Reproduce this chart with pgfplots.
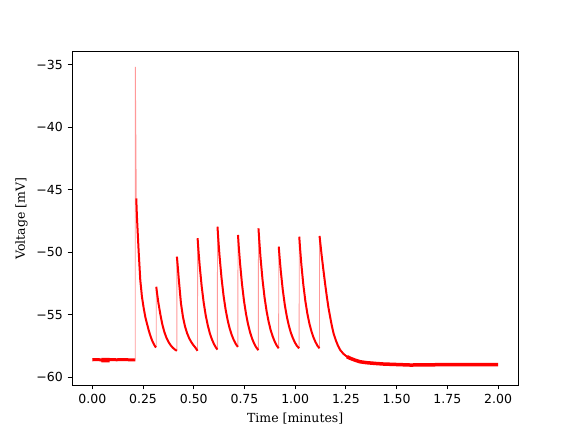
\documentclass[border=0pt]{standalone}
\usepackage{pgfplots}
\pgfplotsset{compat=1.18}
\usepackage{fontspec}
\setmainfont{DejaVu Serif}
\newfontfamily\ticksans{DejaVu Sans}
\begin{document}
\begin{tikzpicture}
\useasboundingbox (-72bp,-47bp) rectangle (504bp,385bp);
\begin{axis}[
  at={(0,0)}, anchor=south west,
  scale only axis, width=446.4bp, height=333bp,
  xmin=-0.1, xmax=2.1, ymin=-60.641, ymax=-33.958,
  unbounded coords=jump,
  xtick={0,0.25,0.5,0.75,1,1.25,1.5,1.75,2},
  xticklabels={0.00,0.25,0.50,0.75,1.00,1.25,1.50,1.75,2.00},
  ytick={-60,-55,-50,-45,-40,-35},
  yticklabels={−60,−55,−50,−45,−40,−35},
  xtick pos=left, ytick pos=left,
  tick align=outside,
  major tick length=4.4bp,
  tick style={line width=1bp, black},
  axis line style={line width=1bp},
  ticklabel style={font=\ticksans\fontsize{12.5bp}{15bp}\selectfont, inner sep=0pt},
  xticklabel style={anchor=north, yshift=-4.6bp},
  yticklabel style={anchor=east, xshift=-4.6bp},
  label style={font=\fontsize{12.5bp}{15bp}\selectfont},
  xlabel={Time [minutes]},
  ylabel={Voltage [mV]},
  xlabel style={at={(axis description cs:0.5,0)}, anchor=base, yshift=-37.3bp},
  ylabel style={at={([xshift=-47bp]axis description cs:0,0.5)}, anchor=base},
]
% baseline
\addplot[red, line width=3bp, line join=round] coordinates {
(0,-58.62) (0.03,-58.60) (0.05,-58.66) (0.07,-58.62) (0.09,-58.60) (0.12,-58.62) (0.15,-58.60) (0.18,-58.62) (0.2118,-58.62)};
\addplot[red, line width=4.5bp] coordinates {(0.045,-58.65) (0.085,-58.64)};
% rises
\addplot[red!40, line width=0.9bp] coordinates {
(0.2118,-58.62)(0.2120,-35.16)(0.2167,-45.68) (nan,nan)
(0.3150,-57.62)(0.3153,-52.77) (nan,nan)
(0.4165,-57.90)(0.4170,-50.36) (nan,nan)
(0.5185,-57.90)(0.5190,-48.88) (nan,nan)
(0.6165,-57.80)(0.6170,-47.96) (nan,nan)
(0.7175,-57.59)(0.7180,-48.62) (nan,nan)
(0.8185,-57.85)(0.8190,-48.09) (nan,nan)
(0.9185,-57.70)(0.9190,-49.56) (nan,nan)
(1.0195,-57.70)(1.0200,-48.76) (nan,nan)
(1.1195,-57.70)(1.1200,-48.70)};
% decays
\addplot[red, line width=2bp, line join=round] coordinates {
(0.2167,-45.68)(0.2200,-47.16)(0.2281,-49.82)(0.2365,-52.23)(0.2447,-53.57)(0.2530,-54.45)(0.2611,-55.17)(0.2700,-55.75)(0.2776,-56.23)(0.2860,-56.68)(0.2939,-57.04)(0.3020,-57.32)(0.3103,-57.57)(0.3150,-57.62) (nan,nan)
(0.3153,-52.77)(0.3193,-53.30)(0.3253,-54.01)(0.3353,-54.97)(0.3453,-55.80)(0.3553,-56.40)(0.3653,-56.85)(0.3753,-57.18)(0.3853,-57.44)(0.3953,-57.63)(0.4053,-57.78)(0.4165,-57.90) (nan,nan)
(0.417,-50.36)(0.421,-51.10)(0.427,-52.30)(0.437,-54.10)(0.447,-55.20)(0.457,-55.95)(0.467,-56.48)(0.477,-56.88)(0.487,-57.18)(0.497,-57.42)(0.507,-57.62)(0.5185,-57.90) (nan,nan)
(0.519,-48.88)(0.523,-49.81)(0.529,-51.04)(0.539,-52.72)(0.549,-54.04)(0.559,-55.06)(0.569,-55.85)(0.579,-56.48)(0.589,-56.96)(0.599,-57.34)(0.609,-57.63)(0.6165,-57.80) (nan,nan)
(0.617,-47.96)(0.621,-48.96)(0.627,-50.28)(0.637,-52.08)(0.647,-53.50)(0.657,-54.59)(0.667,-55.44)(0.677,-56.11)(0.687,-56.62)(0.697,-57.03)(0.707,-57.35)(0.7175,-57.59) (nan,nan)
(0.718,-48.62)(0.722,-49.58)(0.728,-50.85)(0.738,-52.58)(0.748,-53.94)(0.758,-54.98)(0.768,-55.80)(0.778,-56.44)(0.788,-56.94)(0.798,-57.33)(0.808,-57.63)(0.8185,-57.85) (nan,nan)
(0.819,-48.09)(0.823,-49.09)(0.829,-50.41)(0.839,-52.21)(0.849,-53.63)(0.859,-54.72)(0.869,-55.57)(0.879,-56.24)(0.889,-56.75)(0.899,-57.16)(0.909,-57.48)(0.9185,-57.70) (nan,nan)
(0.919,-49.56)(0.923,-50.40)(0.929,-51.52)(0.939,-53.05)(0.949,-54.25)(0.959,-55.18)(0.969,-55.90)(0.979,-56.47)(0.989,-56.90)(0.999,-57.25)(1.009,-57.52)(1.0195,-57.70) (nan,nan)
(1.020,-48.76)(1.024,-49.69)(1.030,-50.92)(1.040,-52.60)(1.050,-53.91)(1.060,-54.93)(1.070,-55.72)(1.080,-56.34)(1.090,-56.82)(1.100,-57.20)(1.110,-57.50)(1.1195,-57.70) (nan,nan)
(1.120,-48.70)(1.124,-49.30)(1.130,-50.20)(1.139,-51.43)(1.148,-52.60)(1.156,-53.57)(1.164,-54.45)(1.172,-55.17)(1.180,-55.85)(1.189,-56.50)(1.200,-57.05)(1.211,-57.50)(1.222,-57.84)(1.238,-58.15)(1.255,-58.37)(1.271,-58.50)};
% tail
\addplot[red, line width=3.5bp, line join=round] coordinates {
(1.255,-58.37)(1.271,-58.50)(1.295,-58.65)(1.320,-58.78)(1.350,-58.85)(1.400,-58.92)(1.435,-58.96)(1.500,-59.00)(1.567,-59.04)(1.650,-59.03)(1.750,-59.00)(1.850,-59.01)(1.950,-59.00)(2.000,-59.00)};
\end{axis}
\end{tikzpicture}
\end{document}
